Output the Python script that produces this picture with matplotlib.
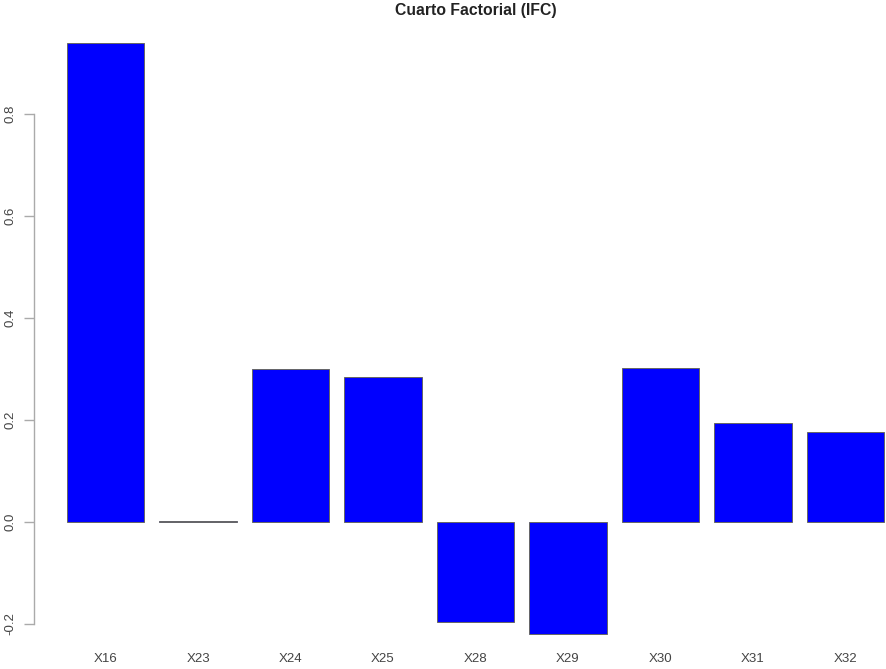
import numpy as np
import matplotlib
matplotlib.use('Agg')
import matplotlib.pyplot as plt

plt.rcParams['font.family'] = ['Liberation Sans', 'DejaVu Sans']

# loadings of the fourth factor
variables = ['X16', 'X23', 'X24', 'X25', 'X28', 'X29', 'X30', 'X31', 'X32']
loadings = [0.939, 0.001, 0.300, 0.284, -0.197, -0.220, 0.302, 0.194, 0.176]
y_ticks = [-0.2, 0.0, 0.2, 0.4, 0.6, 0.8]

W, H = 886, 669
fig = plt.figure(figsize=(W / 100, H / 100), dpi=100)

# R barplot layout: width 1, space 0.2, 4% padding
n = len(variables)
centers = 0.7 + 1.2 * np.arange(n)
x0, x1 = 0.2, 1.2 * n
pad_x = 0.04 * (x1 - x0)
ymin, ymax = min(loadings), max(loadings)
pad_y = 0.04 * (ymax - ymin)

# pixel placement of the plot region (extends past right edge like the original)
left_px, right_px = 34.3, 916.7
top_px, bot_px = 19.6, 657.7
ax = fig.add_axes([left_px / W, 1 - bot_px / H,
                   (right_px - left_px) / W, (bot_px - top_px) / H])

ax.bar(centers, loadings, width=1.0, color='#0000ff', edgecolor='#666666', linewidth=0.7)
ax.set_xlim(x0 - pad_x, x1 + pad_x)
ax.set_ylim(ymin - pad_y, ymax + pad_y)

for s in ['top', 'right', 'bottom']:
    ax.spines[s].set_visible(False)
ax.spines['left'].set_bounds(y_ticks[0], y_ticks[-1])
ax.spines['left'].set_color('#aaaaaa')
ax.spines['left'].set_linewidth(1.0)

ax.set_yticks(y_ticks)
ax.set_yticklabels([f'{v:.1f}' for v in y_ticks], rotation=90, va='center')
ax.tick_params(axis='y', length=7, width=1.0, color='#aaaaaa', labelcolor='#444444',
               labelsize=9.5, pad=6)
ax.set_xticks(centers)
ax.set_xticklabels(variables)
ax.tick_params(axis='x', length=0, labelcolor='#444444', labelsize=9.5, pad=-3.5)

fig.text((left_px + right_px) / 2 / W, 1 - 10 / H, 'Cuarto Factorial (IFC)',
         ha='center', va='center', fontsize=11.3, fontweight='bold', color='#222222')

fig.savefig('out.png', dpi=100)
